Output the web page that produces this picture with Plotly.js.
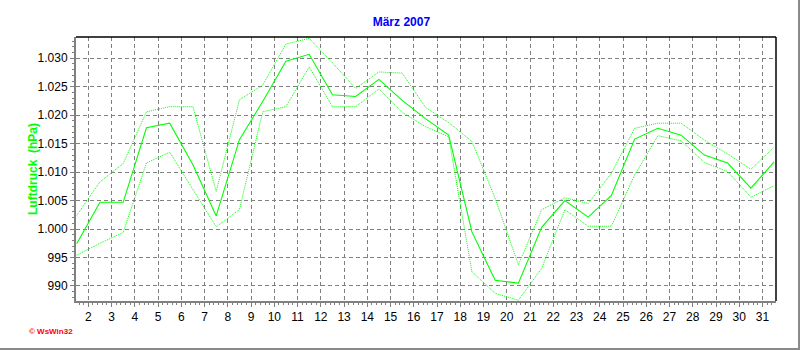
<!DOCTYPE html>
<html>
<head>
<meta charset="utf-8">
<script src="https://cdn.plot.ly/plotly-3.0.1.min.js"></script>
<style>
  html, body { margin: 0; padding: 0; background: #fff; }
  #wrap { width: 800px; height: 350px; box-sizing: border-box; border-right: 2px solid #8a8a8a; border-bottom: 2px solid #8a8a8a; overflow: hidden; }
  #chart { width: 798px; height: 348px; }
</style>
</head>
<body>
<div id="wrap"><div id="chart"></div></div>
<script>
// Data: readings plotted at half-day positions (day + 0.5)
const days = [1.5, 2.5, 3.5, 4.5, 5.5, 6.5, 7.5, 8.5, 9.5, 10.5, 11.5, 12.5, 13.5, 14.5, 15.5, 16.5,
              17.5, 18.5, 19.5, 20.5, 21.5, 22.5, 23.5, 24.5, 25.5, 26.5, 27.5, 28.5, 29.5, 30.5, 31.5];
const pressureMean = [997.4, 1004.7, 1004.7, 1017.8, 1018.6, 1011.3, 1002.3, 1015.7, 1022.4, 1029.5, 1030.7,
                      1023.6, 1023.3, 1026.3, 1022.6, 1019.4, 1016.5, 999.5, 991.0, 990.5, 1000.3, 1005.0,
                      1002.1, 1005.9, 1015.8, 1017.7, 1016.5, 1013.0, 1011.6, 1007.2, 1011.8];
const pressureMax = [1002.4, 1008.3, 1011.5, 1020.6, 1021.5, 1021.5, 1006.6, 1022.7, 1025.3, 1032.5, 1033.5,
                     1029.2, 1024.7, 1027.6, 1027.4, 1021.4, 1018.7, 1015.4, 1005.4, 993.7, 1003.4, 1005.5,
                     1004.5, 1009.8, 1017.7, 1018.6, 1018.6, 1015.6, 1013.2, 1010.5, 1014.4];
const pressureMin = [995.4, 997.5, 999.4, 1011.6, 1013.5, 1006.9, 1000.4, 1003.4, 1020.6, 1021.5, 1028.5,
                     1021.5, 1021.5, 1024.6, 1020.5, 1018.0, 1016.2, 992.5, 988.7, 987.5, 993.1, 1003.4,
                     1000.5, 1000.5, 1009.5, 1016.4, 1015.5, 1011.7, 1010.1, 1005.6, 1007.6];
const xTickVals = [2,3,4,5,6,7,8,9,10,11,12,13,14,15,16,17,18,19,20,21,22,23,24,25,26,27,28,29,30,31];
const yTickVals = [990, 995, 1000, 1005, 1010, 1015, 1020, 1025, 1030];

const GREEN = '#00ff00';
const traces = [
  { x: days, y: pressureMax, mode: 'lines', line: { color: GREEN, width: 1, dash: '1px,1px' }, hoverinfo: 'skip' },
  { x: days, y: pressureMin, mode: 'lines', line: { color: GREEN, width: 1, dash: '1px,1px' }, hoverinfo: 'skip' },
  { x: days, y: pressureMean, mode: 'lines', line: { color: GREEN, width: 1.1 }, hoverinfo: 'skip' }
];

const layout = {
  width: 798, height: 348,
  margin: { l: 76, r: 22, t: 37, b: 47 },
  paper_bgcolor: '#ffffff', plot_bgcolor: '#ffffff',
  showlegend: false,
  separators: ',.',
  font: { family: 'Arial, "Liberation Sans", sans-serif', size: 12, color: '#000' },
  title: { text: 'März 2007', font: { family: 'Arial, "Liberation Sans", sans-serif', size: 12, color: '#0000ff', weight: 'bold' },
           xref: 'container', x: 0.503, xanchor: 'center', yref: 'container', y: 1 - 22/348, yanchor: 'middle' },
  xaxis: {
    range: [1.47, 31.58], tickmode: 'array', tickvals: xTickVals, ticktext: xTickVals.map(String),
    showgrid: true, gridcolor: '#808080', griddash: '4px,3px', gridwidth: 1,
    showline: true, linecolor: '#808080', linewidth: 2,
    ticks: 'outside', ticklen: 4, tickcolor: '#808080', tickwidth: 1,
    tickfont: { size: 12, color: '#000' },
    minor: { dtick: 0.2, tick0: 0, ticks: 'outside', ticklen: 2, tickcolor: '#808080', showgrid: false },
    zeroline: false, fixedrange: true
  },
  yaxis: {
    range: [987.36, 1033.74], tickmode: 'array', tickvals: yTickVals, tickformat: ',.0f',
    showgrid: true, gridcolor: '#808080', griddash: '4px,3px', gridwidth: 1,
    showline: true, linecolor: '#808080', linewidth: 2,
    ticks: 'outside', ticklen: 4, tickcolor: '#808080', tickwidth: 1,
    tickfont: { size: 12, color: '#000' },
    minor: { dtick: 1, tick0: 0, ticks: 'outside', ticklen: 2, tickcolor: '#808080', showgrid: false },
    zeroline: false, fixedrange: true
  },
  shapes: [
    { type: 'line', xref: 'paper', yref: 'paper', x0: 0, x1: 1, y0: 1, y1: 1, line: { color: '#000', width: 1.5 } },
    { type: 'line', xref: 'paper', yref: 'paper', x0: 1, x1: 1, y0: 0, y1: 1, line: { color: '#000', width: 1.5 } }
  ],
  annotations: [
    { text: 'Luftdruck  (hPa)', xref: 'paper', yref: 'paper', x: (33 - 76) / 700, y: 0.5, textangle: -90,
      showarrow: false, xanchor: 'center', yanchor: 'middle',
      font: { family: 'Arial, "Liberation Sans", sans-serif', size: 12, color: '#00ff00', weight: 'bold' } },
    { text: '© WsWin32', xref: 'paper', yref: 'paper', x: (27 - 76) / 700, y: (301 - 331) / 264,
      showarrow: false, xanchor: 'left', yanchor: 'middle',
      font: { family: 'Arial, "Liberation Sans", sans-serif', size: 8, color: '#ff0000', weight: 'bold' } }
  ]
};

Plotly.newPlot('chart', traces, layout, { staticPlot: true, displayModeBar: false });
</script>
</body>
</html>
